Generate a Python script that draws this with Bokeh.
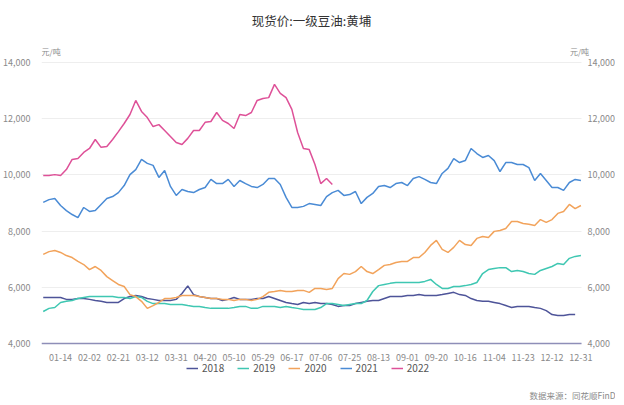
from bokeh.plotting import figure
from bokeh.models import (Range1d, LinearAxis, FixedTicker, NumeralTickFormatter,
                          Label, Legend, LegendItem)
from bokeh.embed import file_html
from bokeh.resources import INLINE

TITLE = "现货价:一级豆油:黄埔"
UNIT = "元/吨"
SOURCE = "数据来源：同花顺FinD"

TICK_LABELS = ["01-14", "02-02", "02-21", "03-12", "03-31", "04-20", "05-10", "05-29",
               "06-17", "07-06", "07-25", "08-13", "09-01", "09-20", "10-16", "11-04",
               "11-23", "12-12", "12-31"]
TICK_POS = [3, 8, 13, 18, 23, 28, 33, 38, 43, 48, 53, 58, 63, 68, 73, 78, 83, 88, 93]
Y_TICKS = [4000, 6000, 8000, 10000, 12000, 14000]

SERIES_NAMES = ["2018", "2019", "2020", "2021", "2022"]
COLORS = ["#4e5499", "#3fc7b2", "#f2a35b", "#4a8bd5", "#de5198"]

v2018 = [5640, 5640, 5640, 5640, 5570, 5570, 5600, 5600, 5570, 5530,
         5500, 5460, 5460, 5460, 5600, 5670, 5710, 5670, 5600, 5570,
         5530, 5530, 5530, 5570, 5780, 6050, 5740, 5670, 5640, 5600,
         5600, 5530, 5570, 5640, 5570, 5570, 5570, 5600, 5600, 5670,
         5600, 5530, 5460, 5420, 5390, 5460, 5420, 5460, 5420, 5420,
         5390, 5320, 5350, 5350, 5420, 5460, 5500, 5530, 5530, 5600,
         5670, 5670, 5670, 5710, 5710, 5740, 5710, 5710, 5710, 5740,
         5780, 5820, 5740, 5710, 5600, 5530, 5500, 5500, 5460, 5420,
         5350, 5280, 5320, 5320, 5320, 5280, 5250, 5170, 5030, 5000,
         5000, 5030, 5030, float("nan")]

v2019 = [5140, 5250, 5280, 5460, 5500, 5530, 5600, 5640, 5670, 5670,
         5670, 5670, 5670, 5640, 5640, 5600, 5670, 5640, 5500, 5420,
         5420, 5420, 5390, 5390, 5390, 5350, 5320, 5320, 5280, 5250,
         5250, 5250, 5250, 5280, 5320, 5320, 5250, 5250, 5320, 5320,
         5320, 5280, 5320, 5280, 5250, 5210, 5210, 5210, 5280, 5420,
         5420, 5390, 5350, 5390, 5420, 5420, 5530, 5850, 6060, 6100,
         6140, 6170, 6170, 6170, 6170, 6170, 6210, 6280, 6100, 5960,
         5960, 6030, 6030, 6060, 6100, 6170, 6490, 6630, 6670, 6700,
         6700, 6560, 6600, 6560, 6490, 6460, 6600, 6670, 6740, 6850,
         6810, 7030, 7100, 7130]

v2020 = [7170, 7270, 7310, 7240, 7130, 7060, 6920, 6810, 6630, 6740,
         6600, 6380, 6240, 6100, 6030, 5740, 5670, 5500, 5250, 5350,
         5460, 5600, 5600, 5640, 5710, 5710, 5710, 5670, 5640, 5600,
         5600, 5570, 5570, 5530, 5570, 5570, 5530, 5570, 5670, 5820,
         5850, 5890, 5850, 5850, 5890, 5890, 5820, 5960, 5960, 5920,
         5960, 6310, 6490, 6460, 6560, 6740, 6560, 6490, 6630, 6780,
         6810, 6880, 6920, 6920, 7060, 7060, 7240, 7490, 7670, 7350,
         7240, 7420, 7670, 7520, 7490, 7740, 7810, 7770, 7990, 8020,
         8090, 8340, 8340, 8270, 8240, 8200, 8410, 8310, 8410, 8630,
         8700, 8950, 8800, 8910]

v2021 = [9020, 9120, 9160, 8910, 8730, 8590, 8480, 8840, 8700, 8730,
         8950, 9160, 9230, 9370, 9620, 10010, 10190, 10550, 10410, 10340,
         9910, 10160, 9590, 9270, 9480, 9410, 9370, 9480, 9550, 9840,
         9690, 9690, 9840, 9590, 9800, 9690, 9590, 9550, 9660, 9870,
         9870, 9660, 9200, 8840, 8840, 8880, 8980, 8950, 8910, 9230,
         9370, 9450, 9270, 9300, 9410, 8980, 9200, 9340, 9590, 9620,
         9550, 9690, 9730, 9620, 9870, 9940, 9840, 9730, 9690, 10050,
         10230, 10580, 10440, 10510, 10940, 10760, 10620, 10690, 10510, 10120,
         10440, 10440, 10370, 10370, 10260, 9800, 10050, 9800, 9550, 9550,
         9450, 9730, 9840, 9800]

v2022 = [9980, 9980, 10010, 9980, 10190, 10550, 10580, 10800, 10940, 11260,
         10980, 11010, 11260, 11540, 11830, 12150, 12650, 12260, 12040, 11720,
         11790, 11580, 11370, 11150, 11080, 11300, 11580, 11580, 11870, 11900,
         12220, 11940, 11830, 11650, 12150, 12110, 12220, 12650, 12720, 12750,
         13220, 12900, 12750, 12330, 11510, 10940, 10900, 10370, 9690, 9870,
         9660]

SERIES = [v2018, v2019, v2020, v2021, v2022]

FONT = "Noto Sans CJK SC"
LABEL_COLOR = "#8a8a8a"
X_START, X_END = -0.3, 93.1

# The frame covers the canvas except the left axis panel; the plotting area
# (x X_START..X_END, value 4,000..14,000) sits inside it, the rest holds the
# title, units, right value labels, legend and source.
p = figure(frame_width=574, frame_height=400, output_backend="svg", toolbar_location=None,
           x_range=Range1d(X_START, 98.98), y_range=Range1d(1971.5, 16206.4),
           min_border_left=34, min_border_right=0, min_border_top=0, min_border_bottom=0,
           background_fill_color="white", border_fill_color="white")
p.outline_line_color = None
p.xgrid.visible = False
p.ygrid.visible = False

# category (date) axis on the 4,000 line
xa = p.xaxis[0]
xa.fixed_location = 4000
xa.bounds = (X_START, X_END)
xa.ticker = FixedTicker(ticks=TICK_POS)
xa.major_label_overrides = {pos: lab for pos, lab in zip(TICK_POS, TICK_LABELS)}
xa.axis_line_color = "#8e8eb8"
xa.axis_line_width = 1.5
xa.major_tick_line_color = None
xa.minor_tick_line_color = None
xa.major_label_text_font = FONT
xa.major_label_text_font_size = "9px"
xa.major_label_text_color = LABEL_COLOR
xa.major_label_standoff = 5

# left value axis (normal panel)
ya = p.yaxis[0]
ya.ticker = FixedTicker(ticks=Y_TICKS)
ya.formatter = NumeralTickFormatter(format="0,0")
ya.axis_line_color = None
ya.major_tick_line_color = None
ya.minor_tick_line_color = None
ya.major_label_text_font = FONT
ya.major_label_text_font_size = "9px"
ya.major_label_text_color = LABEL_COLOR
ya.major_label_standoff = 5

# right value axis at the end of the plotting area; its long inward ticks
# form the horizontal grid lines
ra = LinearAxis(fixed_location=X_END, bounds=(4000, 14000), level="underlay")
ra.ticker = FixedTicker(ticks=Y_TICKS)
ra.formatter = NumeralTickFormatter(format="0,0")
ra.axis_line_color = None
ra.major_tick_in = 540
ra.major_tick_out = 0
ra.major_tick_line_color = "#eeeeee"
ra.major_tick_line_width = 1
ra.minor_tick_line_color = None
ra.major_label_text_font = FONT
ra.major_label_text_font_size = "9px"
ra.major_label_text_color = LABEL_COLOR
ra.major_label_standoff = 6
p.add_layout(ra, "right")

items = []
for name, vals, col in zip(SERIES_NAMES, SERIES, COLORS):
    r = p.line(list(range(len(vals))), vals, line_color=col, line_width=1.5)
    items.append(LegendItem(label=name, renderers=[r]))

legend = Legend(items=items, orientation="horizontal", location=(145, 25),
                glyph_width=12, glyph_height=10, label_standoff=4, spacing=13,
                padding=0, margin=0, border_line_color=None, background_fill_alpha=0,
                label_text_font=FONT, label_text_font_size="10px", label_text_color="#555555",
                label_height=10)
p.add_layout(legend)

p.add_layout(Label(x=270, y=380, x_units="screen", y_units="screen", text=TITLE,
                   text_align="center", text_baseline="middle", text_font=FONT,
                   text_font_size="12.5px", text_color="#333333"))
p.add_layout(Label(x=0, y=349, x_units="screen", y_units="screen", text=UNIT,
                   text_align="left", text_baseline="middle", text_font=FONT,
                   text_font_size="8px", text_color=LABEL_COLOR))
p.add_layout(Label(x=538, y=349, x_units="screen", y_units="screen", text=UNIT,
                   text_align="center", text_baseline="middle", text_font=FONT,
                   text_font_size="8px", text_color=LABEL_COLOR))
p.add_layout(Label(x=574, y=6, x_units="screen", y_units="screen", text=SOURCE,
                   text_align="right", text_baseline="middle", text_font=FONT,
                   text_font_size="8.5px", text_color=LABEL_COLOR))

open("out.html", "w").write(file_html(p, INLINE))
